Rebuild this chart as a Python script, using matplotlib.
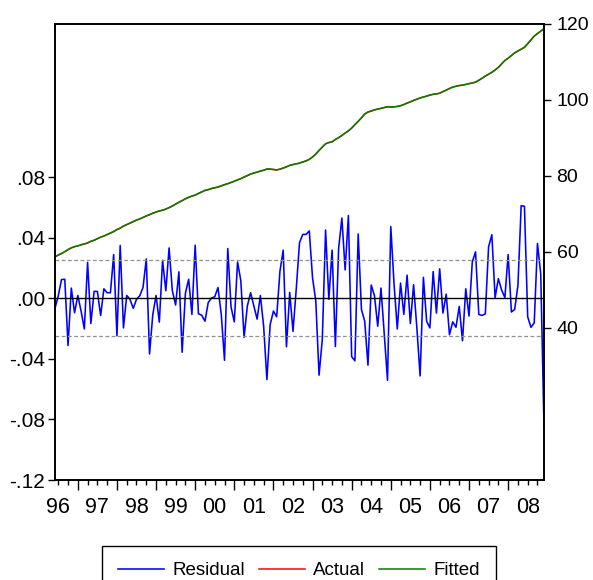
import numpy as np
import pandas as pd
import matplotlib
matplotlib.use("Agg")
import matplotlib.pyplot as plt
from matplotlib.ticker import FuncFormatter, MultipleLocator

plt.rcParams['font.family'] = ['Liberation Sans', 'DejaVu Sans']

# monthly residuals, Jun 1996 - Dec 2008
resid = [
    -0.0067, 0.0016, 0.0123, 0.0125, -0.0312, 0.0067, -0.0096, 0.0018, -0.0085, -0.0203,
    0.0236, -0.0167, 0.0045, 0.0045, -0.0114, 0.0062, 0.0036, 0.0036, 0.0288, -0.0248,
    0.0348, -0.0196, 0.0018, -0.0007, -0.0067, -0.0007, 0.0016, 0.0071, 0.0259, -0.0368,
    -0.0107, 0.0018, -0.0158, 0.0250, 0.0049, 0.0332, 0.0049, -0.0045, 0.0174, -0.0357,
    0.0033, 0.0125, -0.0107, 0.0350, -0.0103, -0.0112, -0.0152, -0.0029, 0.0002, 0.0009,
    0.0071, -0.0107, -0.0410, 0.0328, -0.0058, -0.0156, 0.0239, 0.0116, -0.0259, -0.0051,
    0.0036, -0.0051, -0.0138, 0.0018, -0.0185, -0.0537, -0.0174, -0.0085, -0.0123, 0.0178,
    0.0317, -0.0321, 0.0038, -0.0219, 0.0060, 0.0366, 0.0421, 0.0421, 0.0444, 0.0134,
    -0.0018, -0.0508, -0.0270, 0.0450, -0.0007, 0.0317, -0.0319, 0.0328, 0.0529, 0.0187,
    0.0546, -0.0386, -0.0413, 0.0424, -0.0074, -0.0152, -0.0442, 0.0087, 0.0016, -0.0185,
    0.0067, -0.0241, -0.0542, 0.0473, 0.0094, -0.0203, 0.0100, -0.0107, 0.0152, -0.0167,
    0.0089, -0.0196, -0.0513, 0.0138, -0.0152, -0.0196, 0.0176, -0.0098, 0.0194, -0.0098,
    0.0027, -0.0241, -0.0156, -0.0192, -0.0054, -0.0281, 0.0062, -0.0118, 0.0239, 0.0306,
    -0.0107, -0.0114, -0.0103, 0.0339, 0.0419, 0.0004, 0.0129, 0.0054, 0.0004, 0.0288,
    -0.0091, -0.0074, 0.0083, 0.0611, 0.0607, -0.0123, -0.0192, -0.0163, 0.0361, 0.0161,
    -0.0854,
]

actual = [
    58.7, 59.2, 59.6, 60.1, 60.6, 61.1,
    61.4, 61.6, 61.9, 62.1, 62.4,
    62.8, 63.1, 63.5, 63.9, 64.2, 64.6, 65.0,
    65.4, 65.9, 66.3, 66.8, 67.2, 67.6,
    68.0, 68.4, 68.7, 69.1, 69.5, 69.8, 70.2, 70.5,
    70.8, 71.0, 71.3, 71.7,
    72.1, 72.6, 73.1,
    73.5, 74.0, 74.4, 74.7, 75.0,
    75.4, 75.8, 76.2,
    76.4, 76.7, 76.9, 77.1,
    77.4, 77.7, 78.0, 78.3, 78.6, 79.0,
    79.3, 79.7, 80.1, 80.5,
    80.8, 81.0, 81.3, 81.5, 81.8,
    81.8, 81.7, 81.6, 81.8,
    82.1, 82.4, 82.8, 83.0, 83.2, 83.4,
    83.7, 84.0, 84.4, 85.0,
    85.8, 86.7, 87.6, 88.5, 88.8, 89.0,
    89.6, 90.1, 90.7, 91.3, 91.9, 92.6,
    93.5, 94.4, 95.3, 96.3, 96.8,
    97.1, 97.4, 97.6, 97.8, 98.0, 98.2,
    98.2, 98.2, 98.3,
    98.5, 98.8, 99.2, 99.5, 99.9, 100.2, 100.5,
    100.8, 101.0, 101.3, 101.5, 101.6, 101.8,
    102.2, 102.6, 103.0, 103.4,
    103.6, 103.8, 103.9, 104.1,
    104.3, 104.5, 104.7,
    105.2, 105.7, 106.3,
    106.8, 107.3, 107.9,
    108.6, 109.5, 110.4,
    111.0, 111.7, 112.4,
    112.9, 113.4, 113.9,
    114.8, 115.8, 116.8,
    117.5, 118.1, 118.7,
]

start = '1996-06'
se = 0.025
year_labels = ['96', '97', '98', '99', '00', '01', '02', '03', '04', '05', '06', '07', '08']
first_year = 1996

fitted = np.array(actual) - np.array(resid)
dates = pd.date_range(start, periods=len(resid), freq='MS')
t = np.asarray(dates.year + (dates.month - 1) / 12.0, dtype=float)

fig = plt.figure(figsize=(5.93, 5.80), dpi=100)
ax = fig.add_axes([55/593, 100/580, 489/593, 456/580])
ax2 = ax.twinx()

l_res, = ax.plot(t, resid, color='#0000ff', lw=1.15)
ax.axhline(0, color='k', lw=1.0)
ax.axhline(se, color='#909090', lw=0.9, ls=(0, (3, 2)))
ax.axhline(-se, color='#909090', lw=0.9, ls=(0, (3, 2)))
l_act, = ax2.plot(t, actual, color='#ff0000', lw=1.1)
l_fit, = ax2.plot(t, fitted, color='#008000', lw=1.1)

ax.set_xlim(t[0], t[-1])
ax.set_ylim(-0.12, 0.181)
ax2.set_ylim(0, 120)

ax.set_yticks([-0.12, -0.08, -0.04, 0.0, 0.04, 0.08])
ax.yaxis.set_major_formatter(FuncFormatter(lambda v, p: ('%.2f' % v).replace('0.', '.')))
ax2.set_yticks([40, 60, 80, 100, 120])
ax.tick_params(axis='y', direction='out', length=5, width=1, labelsize=15, pad=2)
ax2.tick_params(axis='y', direction='out', length=5, width=1, labelsize=14, pad=4)

# year boundaries as major ticks, quarters as minor, labels at mid-year
ax.set_xticks(np.arange(first_year + 1, first_year + len(year_labels)))
ax.xaxis.set_minor_locator(MultipleLocator(0.25))
ax.tick_params(axis='x', which='major', direction='out', length=7.5, width=1, labelbottom=False)
ax.tick_params(axis='x', which='minor', direction='out', length=3.3, width=1)
sec = ax.secondary_xaxis('bottom')
sec.set_xticks(np.arange(len(year_labels)) + first_year + 0.5, year_labels)
sec.tick_params(length=0, labelsize=15.5, pad=12)
sec.spines['bottom'].set_visible(False)

for a in (ax, ax2):
    for s in a.spines.values():
        s.set_linewidth(1.2)

fig.legend([l_res, l_act, l_fit], ['Residual', 'Actual', 'Fitted'],
           loc='upper center', bbox_to_anchor=(299/593, 34/580), ncol=3,
           fontsize=13.5, frameon=True, fancybox=False, edgecolor='k',
           framealpha=1, handlelength=2.45, handletextpad=0.43,
           columnspacing=0.75, borderpad=0.85, borderaxespad=0)

fig.savefig('out.png', dpi=100)
